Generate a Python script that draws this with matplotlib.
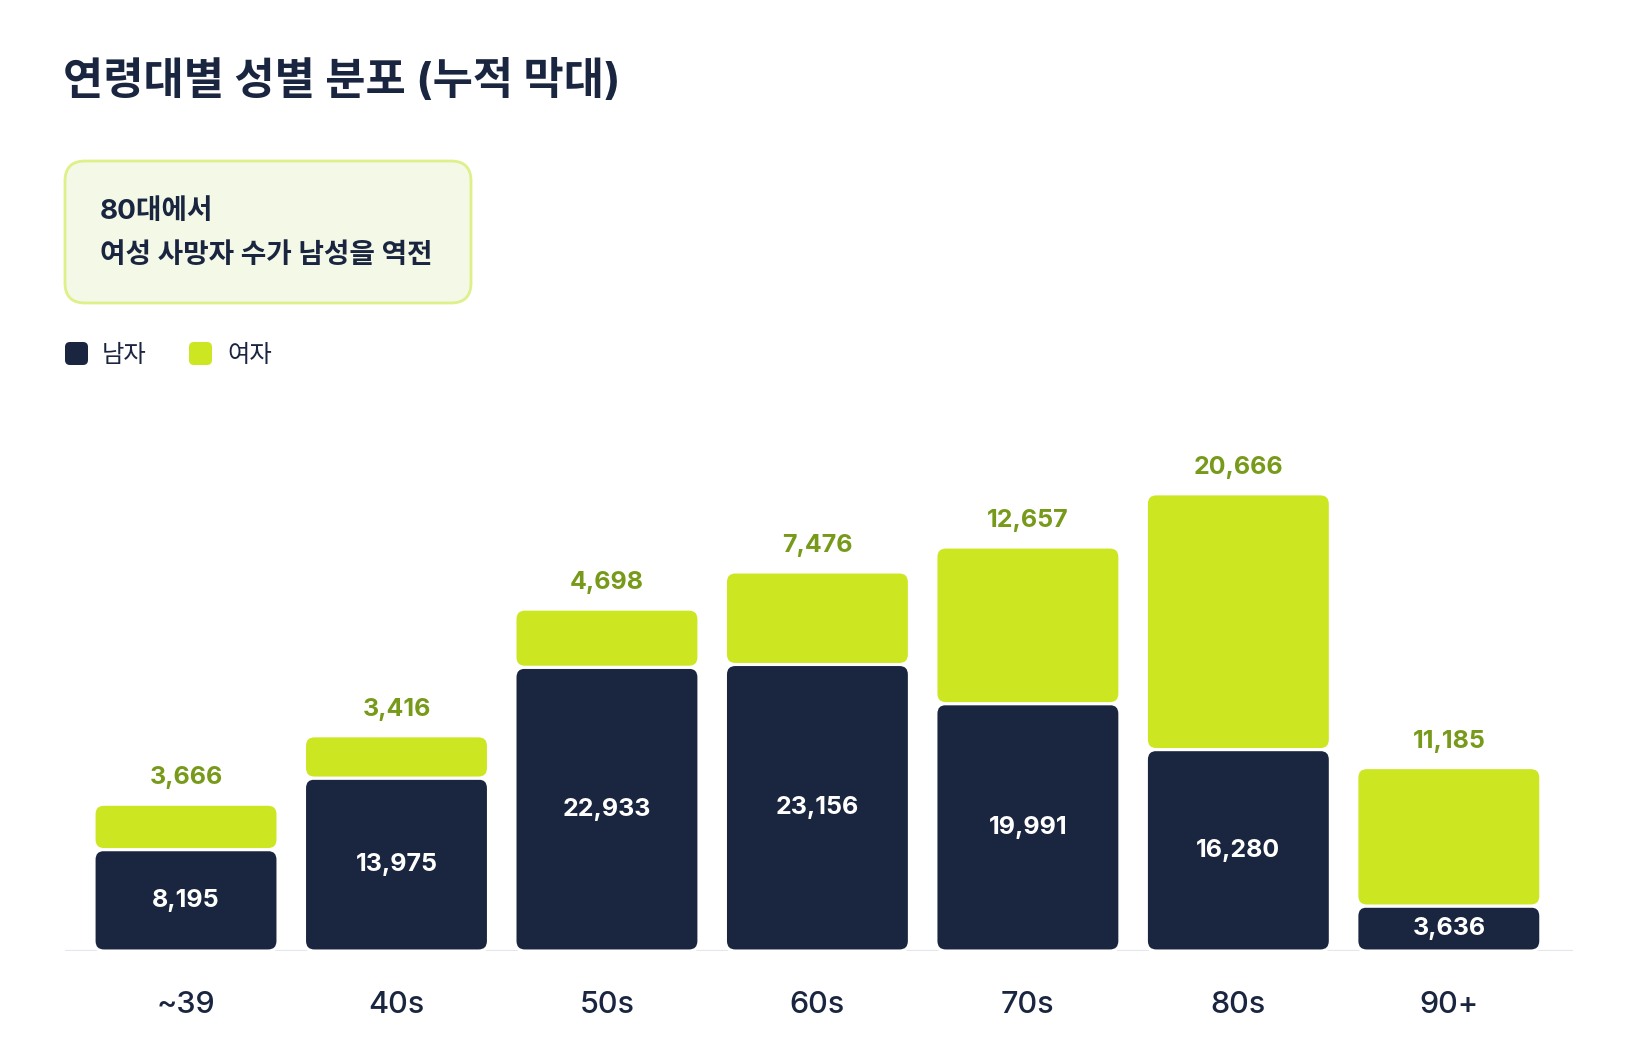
import numpy as np
import matplotlib
matplotlib.use('Agg')
import matplotlib.pyplot as plt
from matplotlib.patches import FancyBboxPatch

plt.rcParams['font.family'] = ['Inter', 'Noto Sans CJK KR', 'DejaVu Sans']

# %% data
age_groups = ['~39', '40s', '50s', '60s', '70s', '80s', '90+']
male = [8195, 13975, 22933, 23156, 19991, 16280, 3636]
female = [3666, 3416, 4698, 7476, 12657, 20666, 11185]

navy = '#1a2540'
lime = '#cde622'
olive = '#789a1a'

W, H = 1636, 1056
fig = plt.figure(figsize=(W / 100, H / 100), dpi=100)

# %% bar axes
ax = fig.add_axes([65 / W, (H - 951) / H, (1573 - 65) / W, 511 / H])
x = np.arange(len(age_groups))
bw = 0.874
bars_m = ax.bar(x, male, width=bw, color=navy)
bars_f = ax.bar(x, female, bottom=male, width=bw, color=lime)
ax.set_xlim(-0.575, 6.59)
ax.set_ylim(0, 41300)

# convert pixel radius to data units
fig.canvas.draw()
p0 = ax.transData.transform((0, 0))
p1 = ax.transData.transform((1, 1000))
px_x = p1[0] - p0[0]
px_y = (p1[1] - p0[1]) / 1000
r_px = 10
aspect = px_x / px_y

def round_bars(bars, color):
    for b in bars:
        bx, by = b.get_x(), b.get_y()
        bwid, bh = b.get_width(), b.get_height()
        b.remove()
        ax.add_patch(FancyBboxPatch((bx, by), bwid, bh,
                                    boxstyle=f'round,pad=0,rounding_size={r_px / px_x}',
                                    mutation_aspect=aspect, fc=color, ec='white', lw=2.2))

round_bars(bars_m, navy)
round_bars(bars_f, lime)

for i in range(len(age_groups)):
    ax.text(x[i], male[i] / 2, f'{male[i]:,}', ha='center', va='center',
            color='white', fontsize=18, fontweight='bold')
    ax.annotate(f'{female[i]:,}', (x[i], male[i] + female[i]), xytext=(0, 19),
                textcoords='offset points', ha='center', va='center',
                color=olive, fontsize=18, fontweight='bold')

ax.axhline(0, color='#e3e6ea', lw=1.6, zorder=0)
for s in ax.spines.values():
    s.set_visible(False)
ax.set_yticks([])
ax.set_xticks(x)
ax.set_xticklabels(age_groups, fontsize=22, color=navy, fontweight='medium')
ax.tick_params(axis='x', length=0, pad=29)

# %% title, note box, legend in pixel coordinates
lay = fig.add_axes([0, 0, 1, 1], zorder=-1)
lay.set_xlim(0, W)
lay.set_ylim(H, 0)
lay.axis('off')

lay.text(63, 82, '연령대별 성별 분포 (누적 막대)', fontsize=31.5, fontweight='bold',
         color=navy, va='center', ha='left')

lay.add_patch(FancyBboxPatch((65, 161), 406, 142, boxstyle='round,pad=0,rounding_size=20',
                             fc='#f4f8e7', ec='#def08a', lw=2))
lay.text(100, 212, '80대에서', fontsize=20, fontweight='bold', color=navy, va='center')
lay.text(100, 256, '여성 사망자 수가 남성을 역전', fontsize=20, fontweight='bold',
         color=navy, va='center')

for sx, tx, col, lab in [(65, 102, navy, '남자'), (189, 227, lime, '여자')]:
    lay.add_patch(FancyBboxPatch((sx, 342), 23, 23, boxstyle='round,pad=0,rounding_size=5',
                                 fc=col, ec='none'))
    lay.text(tx, 356, lab, fontsize=17.5, color=navy, va='center', fontweight='medium')

fig.savefig('out.png', dpi=100)
